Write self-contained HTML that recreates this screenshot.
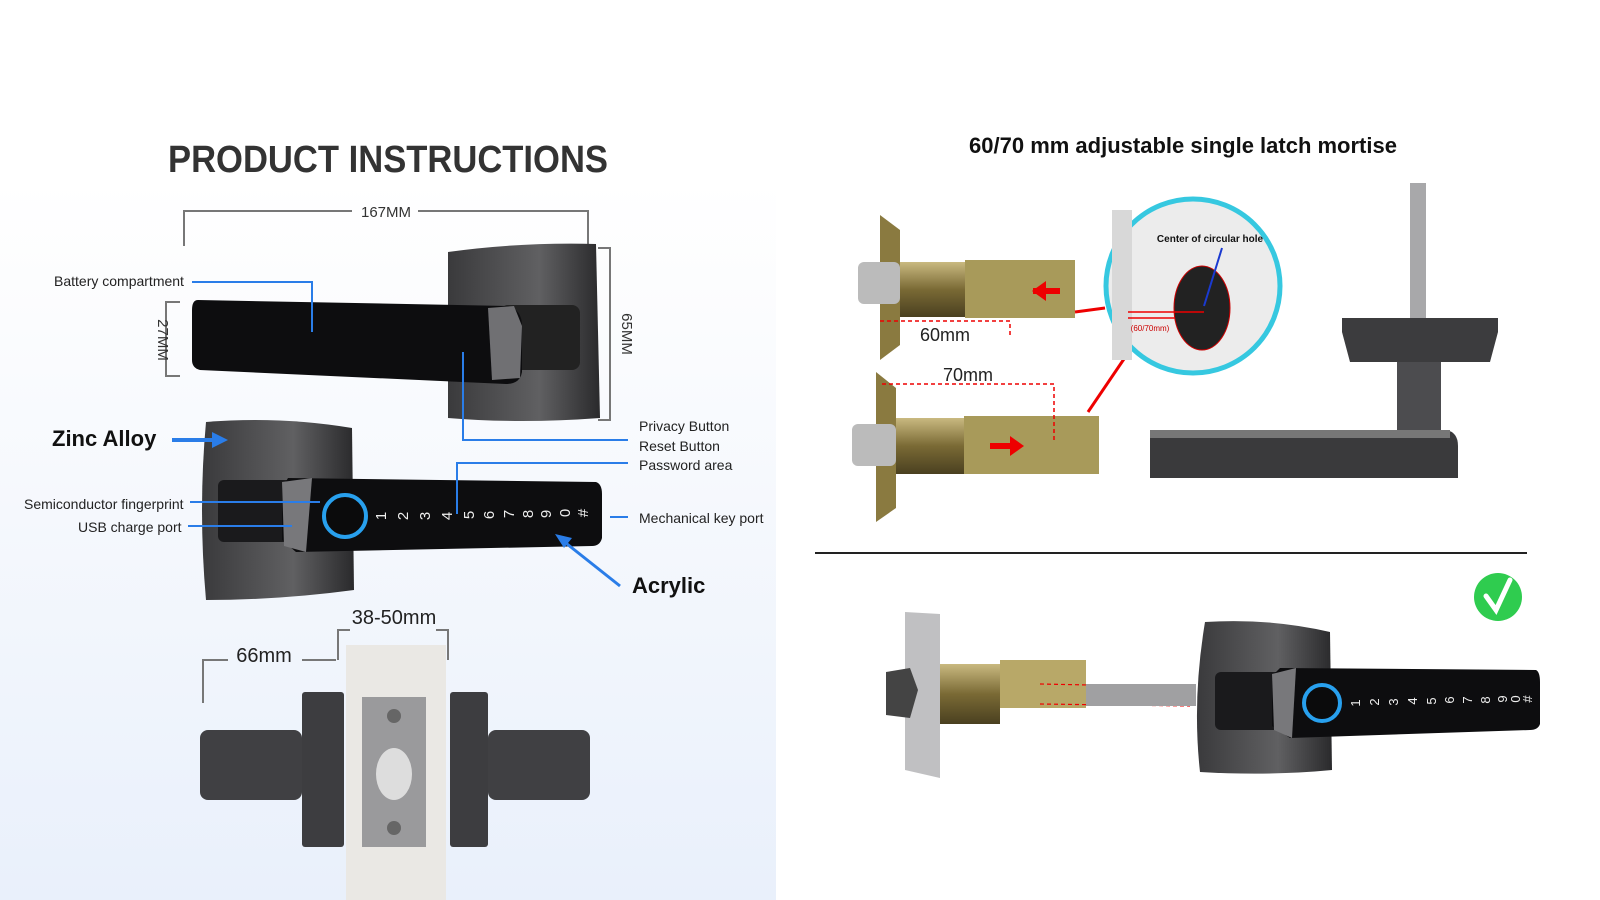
<!DOCTYPE html>
<html><head><meta charset="utf-8"><style>
html,body{margin:0;padding:0;background:#fff;}
svg{display:block;font-family:"Liberation Sans",sans-serif;}
</style></head><body>
<svg width="1600" height="900" viewBox="0 0 1600 900" xmlns="http://www.w3.org/2000/svg">
<defs>
<linearGradient id="bg" x1="0" y1="0" x2="0" y2="1">
<stop offset="0" stop-color="#ffffff"/><stop offset="0.2" stop-color="#fbfcfe"/><stop offset="1" stop-color="#e9f0fb"/>
</linearGradient>
<linearGradient id="plate" x1="0" y1="0" x2="1" y2="0">
<stop offset="0" stop-color="#3a3a3c"/><stop offset="0.6" stop-color="#606062"/><stop offset="1" stop-color="#2a2a2c"/>
</linearGradient>
<linearGradient id="brass" x1="0" y1="0" x2="0" y2="1">
<stop offset="0" stop-color="#c9b980"/><stop offset="0.5" stop-color="#7a6a35"/><stop offset="1" stop-color="#4a4020"/>
</linearGradient>
</defs>
<rect x="0" y="0" width="1600" height="900" fill="#fff"/>
<rect x="0" y="180" width="776" height="720" fill="url(#bg)"/>

<!-- LEFT -->
<text x="388" y="172" font-size="38" font-weight="bold" fill="#333" text-anchor="middle" textLength="440" lengthAdjust="spacingAndGlyphs">PRODUCT INSTRUCTIONS</text>
<g stroke="#777" stroke-width="2" fill="none">
<path d="M184 246V211H352M418 211H588V246"/>
<path d="M598 248H610V420H598"/>
<path d="M180 302H166V376H180"/>
<path d="M203 703V660H228M302 660H336"/>
<path d="M338 660V630H350M436 630H448V660"/>
</g>
<text x="386" y="217" font-size="15" fill="#333" text-anchor="middle">167MM</text>
<text transform="translate(622,334) rotate(90)" font-size="15" fill="#333" text-anchor="middle">65MM</text>
<text transform="translate(158,340) rotate(90)" font-size="15" fill="#333" text-anchor="middle">27MM</text>
<text x="264" y="662" font-size="20" fill="#222" text-anchor="middle">66mm</text>
<text x="394" y="624" font-size="20" fill="#222" text-anchor="middle">38-50mm</text>

<!-- top handle -->
<path d="M448 252 Q520 242 596 244 L600 418 Q520 424 448 418 Z" fill="url(#plate)"/>
<rect x="500" y="305" width="80" height="65" rx="8" fill="#222"/>
<path d="M198 300 L508 306 Q522 310 522 326 L522 372 Q520 384 506 384 L200 370 Q192 368 192 360 L192 310 Q192 300 198 300Z" fill="#0d0d0f"/>
<path d="M488 308 L514 306 L522 326 L520 378 L492 380Z" fill="#707073"/>
<!-- bottom handle -->
<path d="M206 422 Q280 416 352 428 L354 590 Q280 600 206 600 Q198 510 206 422Z" fill="url(#plate)"/>
<rect x="218" y="480" width="80" height="62" rx="6" fill="#1a1a1c"/>
<path d="M288 478 L596 482 Q602 484 602 494 L602 538 Q600 546 592 546 L296 552 L282 540 L282 488Z" fill="#0d0d0f"/>
<path d="M282 482 L312 478 L306 552 L284 546Z" fill="#78787b"/>
<circle cx="345" cy="516" r="21" fill="#0b0b0c" stroke="#28a0ee" stroke-width="4"/>
<g font-size="15" fill="#eee" text-anchor="middle">
<text transform="translate(386,516) rotate(-90)">1</text><text transform="translate(408,516) rotate(-90)">2</text><text transform="translate(430,516) rotate(-90)">3</text><text transform="translate(452,516) rotate(-90)">4</text><text transform="translate(474,515) rotate(-90)">5</text><text transform="translate(494,515) rotate(-90)">6</text><text transform="translate(514,514) rotate(-90)">7</text><text transform="translate(533,514) rotate(-90)">8</text><text transform="translate(551,514) rotate(-90)">9</text><text transform="translate(570,513) rotate(-90)">0</text><text transform="translate(588,513) rotate(-90)">#</text>
</g>
<!-- blue callouts -->
<g stroke="#2a7de8" stroke-width="2" fill="none">
<path d="M192 282H312V332"/>
<path d="M463 352V440H628"/>
<path d="M457 514V463H628"/>
<path d="M190 502H320"/><path d="M188 526H292"/>
<path d="M610 517H628"/>
<path d="M172 440H215" stroke-width="4"/>
<path d="M620 586L562 540" stroke-width="3"/>
</g>
<path d="M228 440L212 432V448Z" fill="#2a7de8"/>
<path d="M555 534L572 538L564 548Z" fill="#2a7de8"/>
<g font-size="14" fill="#222">
<text x="54" y="286">Battery compartment</text>
<text x="639" y="431">Privacy Button</text>
<text x="639" y="451">Reset Button</text>
<text x="639" y="470">Password area</text>
<text x="24" y="509">Semiconductor fingerprint</text>
<text x="78" y="532">USB charge port</text>
<text x="639" y="523">Mechanical key port</text>
</g>
<text x="52" y="446" font-size="22" font-weight="bold" fill="#111">Zinc Alloy</text>
<text x="632" y="593" font-size="22" font-weight="bold" fill="#111">Acrylic</text>
<!-- bottom assembly -->
<rect x="346" y="645" width="100" height="255" fill="#eae8e4"/>
<rect x="302" y="692" width="42" height="155" rx="3" fill="#3d3d40"/>
<rect x="450" y="692" width="38" height="155" rx="3" fill="#3d3d40"/>
<rect x="200" y="730" width="102" height="70" rx="8" fill="#404043"/>
<rect x="488" y="730" width="102" height="70" rx="8" fill="#404043"/>
<rect x="362" y="697" width="64" height="150" fill="#9a9a9c"/>
<ellipse cx="394" cy="774" rx="18" ry="26" fill="#ddd"/>
<circle cx="394" cy="716" r="7" fill="#666"/><circle cx="394" cy="828" r="7" fill="#666"/>

<!-- RIGHT -->
<text x="1183" y="153" font-size="22" font-weight="bold" fill="#111" text-anchor="middle">60/70 mm adjustable single latch mortise</text>
<!-- latch 1 -->
<path d="M880 215 L900 230 L900 345 L880 360Z" fill="#8a7a40"/>
<rect x="858" y="262" width="42" height="42" rx="6" fill="#bbb"/>
<rect x="900" y="262" width="65" height="55" fill="url(#brass)"/>
<rect x="965" y="260" width="110" height="58" fill="#a89a5a"/>
<path d="M1033 291H1060" stroke="#e00" stroke-width="6"/><path d="M1032 291L1046 281V301Z" fill="#e00"/>
<path d="M880 321H1010V336" stroke="#e00" stroke-width="1.5" stroke-dasharray="4 3" fill="none"/>
<text x="945" y="341" font-size="18" fill="#222" text-anchor="middle">60mm</text>
<path d="M1075 312L1105 308" stroke="#e00" stroke-width="3"/>
<!-- latch 2 -->
<path d="M876 372 L896 388 L896 508 L876 522Z" fill="#8a7a40"/>
<rect x="852" y="424" width="44" height="42" rx="6" fill="#bbb"/>
<rect x="896" y="418" width="68" height="56" fill="url(#brass)"/>
<rect x="964" y="416" width="135" height="58" fill="#a89a5a"/>
<path d="M990 446H1015" stroke="#e00" stroke-width="6"/><path d="M1024 446L1010 436V456Z" fill="#e00"/>
<path d="M882 384H1054V440" stroke="#e00" stroke-width="1.5" stroke-dasharray="4 3" fill="none"/>
<text x="968" y="381" font-size="18" fill="#222" text-anchor="middle">70mm</text>
<path d="M1088 412L1126 356" stroke="#e00" stroke-width="3"/>
<!-- circle -->
<circle cx="1193" cy="286" r="87" fill="#ececec" stroke="#36c8e0" stroke-width="5"/>
<rect x="1112" y="210" width="20" height="150" fill="#d8d8d8"/>
<ellipse cx="1202" cy="308" rx="28" ry="42" fill="#222" stroke="#c00" stroke-width="1"/>
<text x="1210" y="242" font-size="10" font-weight="bold" fill="#111" text-anchor="middle">Center of circular hole</text>
<path d="M1222 248L1204 306" stroke="#1a3ad0" stroke-width="2"/>
<path d="M1128 312H1204M1128 318H1175" stroke="#e00" stroke-width="1.5"/>
<text x="1150" y="331" font-size="8" fill="#c00" text-anchor="middle">(60/70mm)</text>
<!-- side handle -->
<rect x="1410" y="183" width="16" height="140" fill="#a8a8aa"/>
<path d="M1342 318 H1498 V332 L1490 362 H1350 L1342 332Z" fill="#3c3c3e"/>
<rect x="1397" y="362" width="44" height="76" fill="#4c4c4f"/>
<path d="M1150 430 H1446 Q1458 432 1458 446 V478 H1150Z" fill="#3a3a3c"/>
<rect x="1150" y="430" width="300" height="8" fill="#777"/>
<!-- divider -->
<path d="M815 553H1527" stroke="#222" stroke-width="2"/>
<!-- check -->
<circle cx="1498" cy="597" r="24" fill="#2fcc4f"/>
<path d="M1486 596L1496 610L1510 580" stroke="#fff" stroke-width="5" fill="none" stroke-linecap="round"/>
<!-- bottom latch -->
<path d="M905 612 L940 614 L940 778 L905 770Z" fill="#c0c0c2"/>
<path d="M886 672 L910 668 L918 690 L910 718 L886 715Z" fill="#444"/>
<rect x="940" y="664" width="60" height="60" fill="url(#brass)"/>
<rect x="1000" y="660" width="86" height="48" fill="#b8a868"/>
<path d="M1040 684L1190 687M1040 704L1190 706" stroke="#e00" stroke-width="1.2" stroke-dasharray="4 3"/>
<rect x="1086" y="684" width="110" height="22" fill="#a0a0a2"/>
<!-- bottom right handle -->
<path d="M1205 622 Q1270 618 1330 632 L1332 770 Q1270 776 1200 772 Q1192 700 1205 622Z" fill="url(#plate)"/>
<rect x="1215" y="672" width="70" height="58" rx="6" fill="#1a1a1c"/>
<path d="M1280 668 L1536 670 Q1540 672 1540 682 L1540 724 Q1538 730 1530 730 L1290 738 L1272 726 L1272 676Z" fill="#0d0d0f"/>
<path d="M1272 674 L1296 668 L1292 738 L1274 730Z" fill="#78787b"/>
<circle cx="1322" cy="703" r="18" fill="#0b0b0c" stroke="#28a0ee" stroke-width="4"/>
<g font-size="13" fill="#eee" text-anchor="middle">
<text transform="translate(1360,703) rotate(-90)">1</text><text transform="translate(1379,702) rotate(-90)">2</text><text transform="translate(1398,702) rotate(-90)">3</text><text transform="translate(1417,701) rotate(-90)">4</text><text transform="translate(1436,701) rotate(-90)">5</text><text transform="translate(1454,700) rotate(-90)">6</text><text transform="translate(1472,700) rotate(-90)">7</text><text transform="translate(1490,700) rotate(-90)">8</text><text transform="translate(1507,699) rotate(-90)">9</text><text transform="translate(1520,699) rotate(-90)">0</text><text transform="translate(1532,699) rotate(-90)">#</text>
</g>
</svg>
</body></html>
